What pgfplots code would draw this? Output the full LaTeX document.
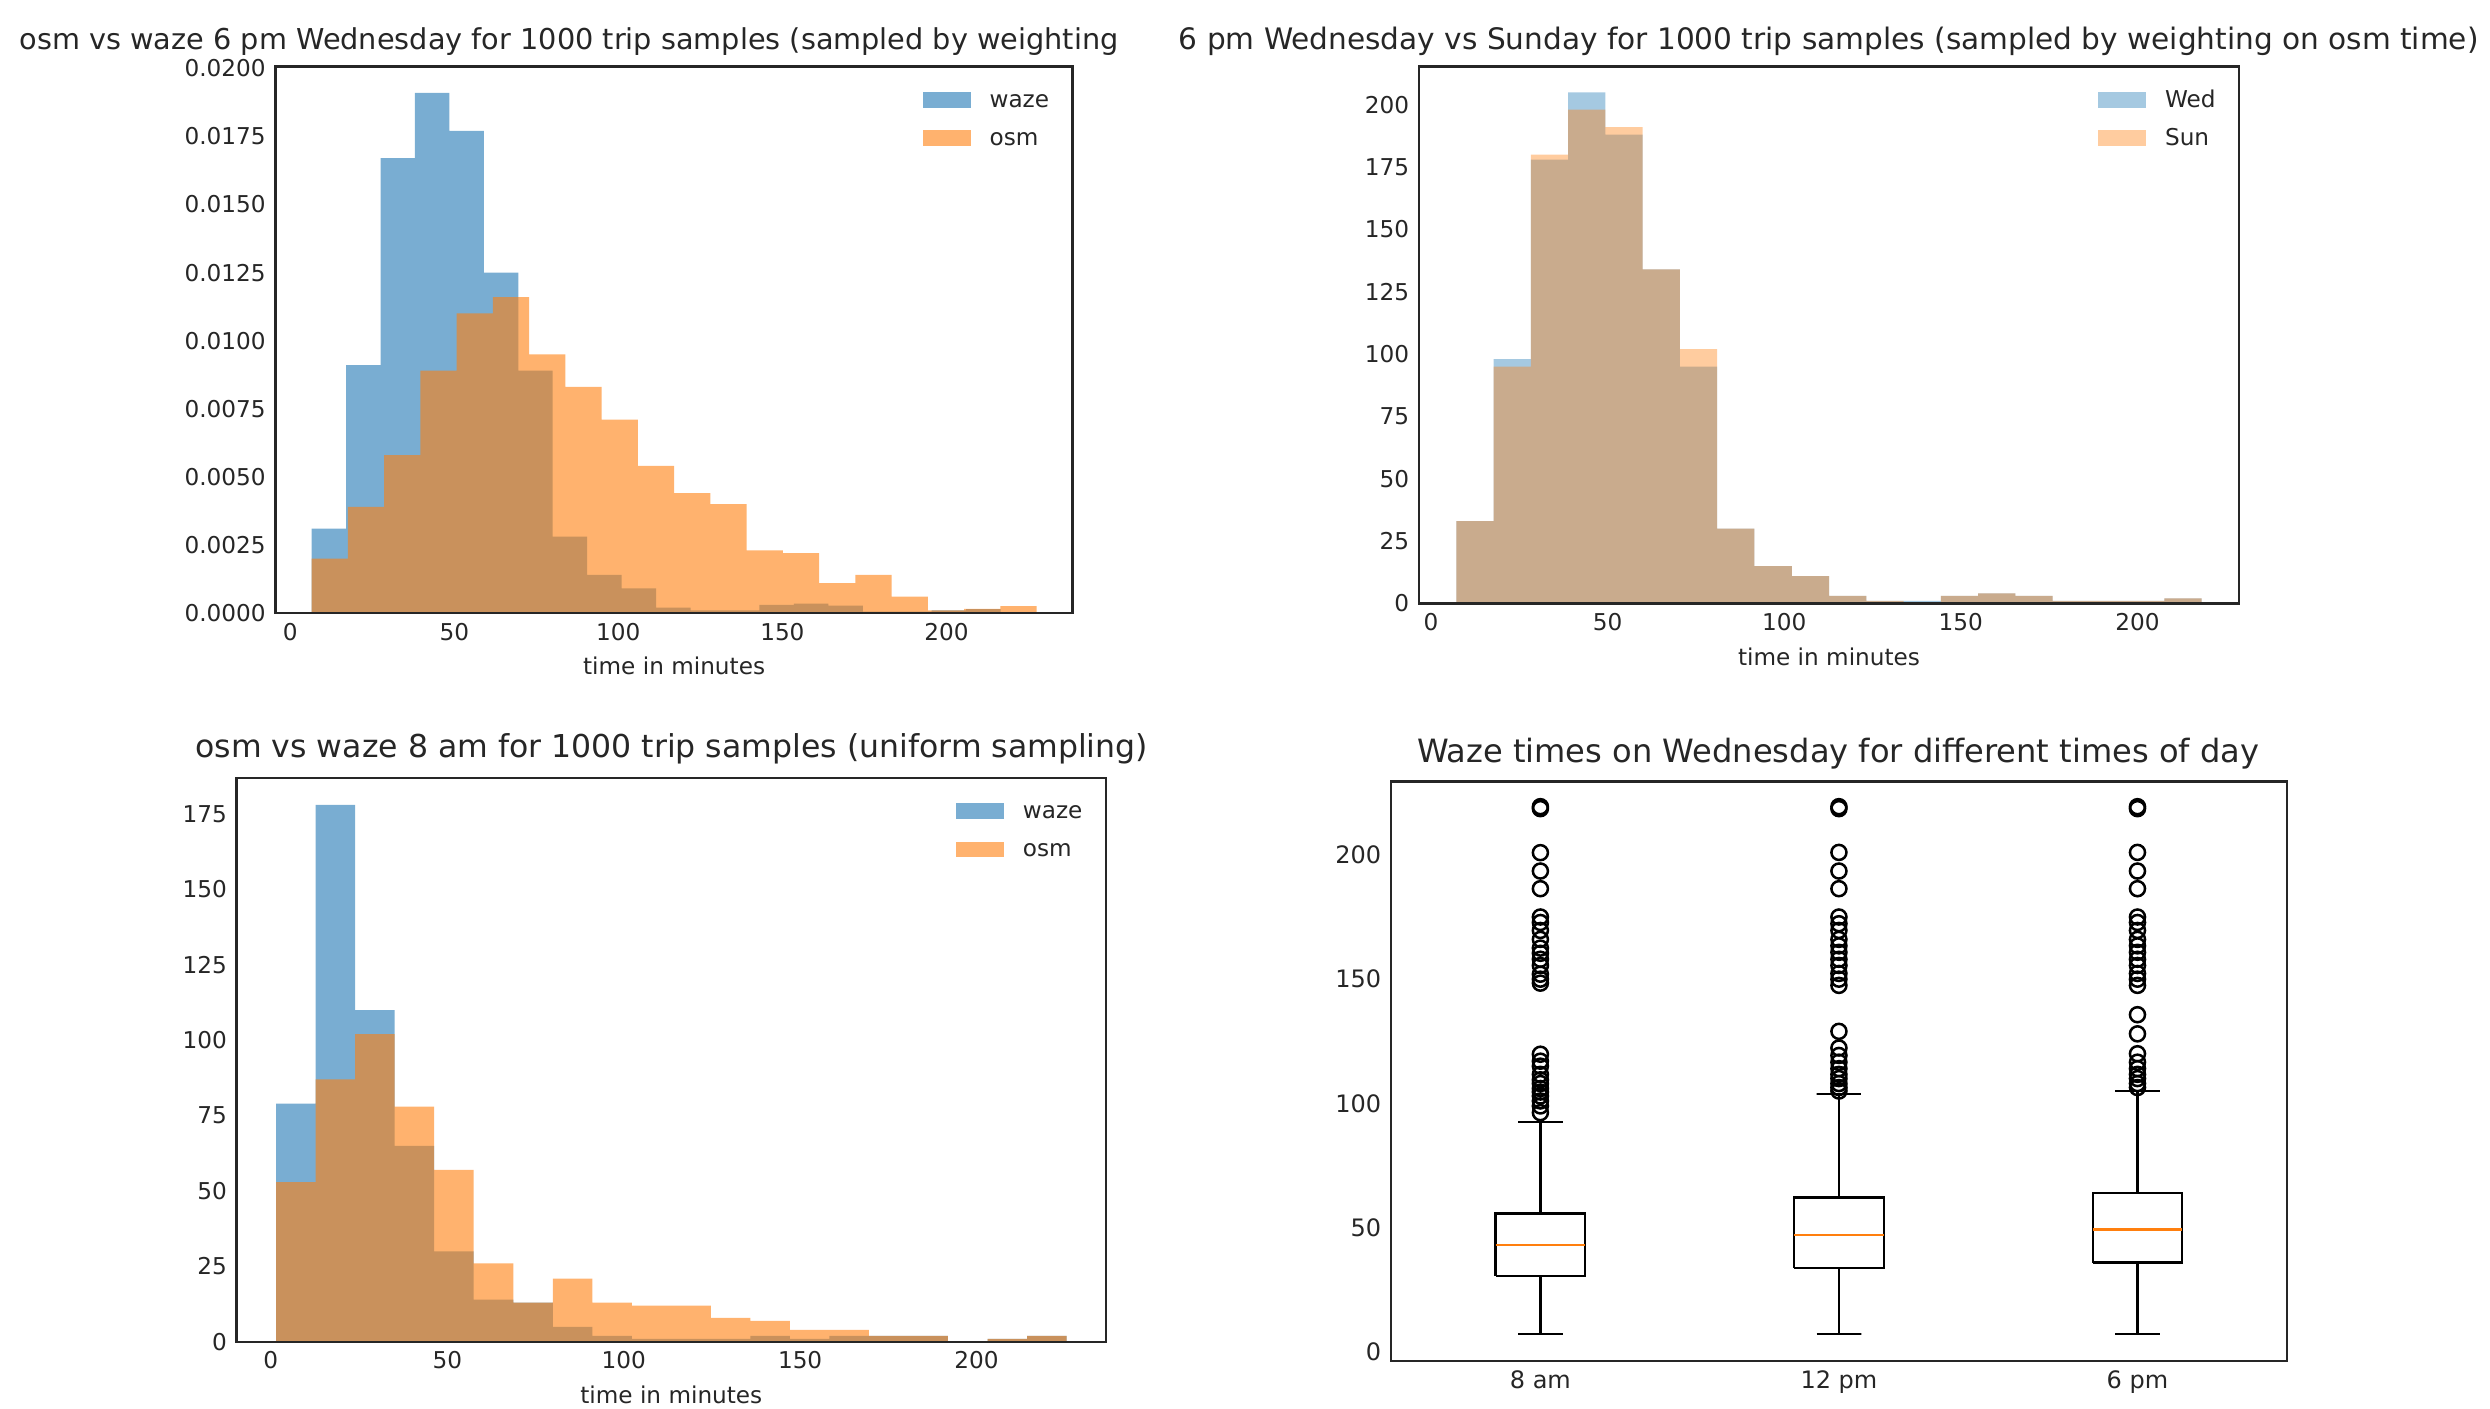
\documentclass[border=0pt]{standalone}
\usepackage{fontspec}
\setmainfont{DejaVu Sans}
\usepackage{pgfplots}
\pgfplotsset{compat=1.18}

\definecolor{mblue}{HTML}{1F77B4}
\definecolor{morange}{HTML}{FF7F0E}
\definecolor{txt}{HTML}{262626}

\newcommand{\tickfont}{\fontsize{8.3}{10}\selectfont}

\pgfplotsset{
  mplaxis/.style={
    scale only axis,
    axis on top,
    axis line style={txt, line width=0.9pt},
    major tick length=0pt,
    tick style={draw=none},
    tick label style={font=\tickfont, text=txt},
    label style={font=\tickfont, text=txt},
    xlabel style={at={(axis description cs:0.5,0)}, anchor=base, yshift=-7.8mm},
    /pgf/number format/assume math mode=true,
    legend cell align=left,
    legend style={draw=none, fill=none, at={(1,1)}, anchor=north east,
      xshift=-2.9mm, yshift=-3.0mm, font=\tickfont, text=txt,
      row sep=2.6mm, inner sep=0pt,
      nodes={inner sep=0pt, text height=5.8pt, text depth=0.5pt},
      /tikz/every odd column/.append style={column sep=2.4mm}},
  },
  histleg/.style={legend image code/.code={\fill[##1] (0mm,-1mm) rectangle (6mm,1mm);}},
  bxline/.style={draw=black, line width=0.8pt},
  flier/.style={only marks, mark=o, mark size=2.7pt, mark options={draw=black, line width=0.9pt}},
}

\begin{document}
\begin{tikzpicture}

% --- top left: density histogram, 6 pm Wednesday ---
\begin{axis}[mplaxis,
  at={(34.7mm,100.2mm)}, anchor=south west,
  width=100.4mm, height=68.8mm,
  xmin=-4.5, xmax=238.5, ymin=0, ymax=0.02006,
  xtick={0,50,100,150,200},
  ytick={0,0.0025,0.005,0.0075,0.01,0.0125,0.015,0.0175,0.02},
  scaled y ticks=false,
  yticklabel style={/pgf/number format/.cd, fixed, fixed zerofill, precision=4},
  xlabel={time in minutes},
]
\addplot[const plot, draw=none, fill=mblue, fill opacity=0.6, histleg] coordinates {
  (6.5,0.0031)(17,0.0091)(27.5,0.0167)(38,0.0191)(48.5,0.0177)(59,0.0125)(69.5,0.0089)
  (80,0.0028)(90.5,0.0014)(101,0.0009)(111.5,0.0002)(122,0.0001)(132.5,0.0001)(143,0.0003)
  (153.5,0.00034)(164,0.00027)(174.5,0.00005)(185,0.00005)(195.5,0.0001)(206,0.00014)(216.5,0.00014)} \closedcycle;
\addlegendentry{waze}
\addplot[const plot, draw=none, fill=morange, fill opacity=0.6, histleg] coordinates {
  (6.5,0.0020)(17.55,0.0039)(28.6,0.0058)(39.65,0.0089)(50.7,0.0110)(61.75,0.0116)(72.8,0.0095)
  (83.85,0.0083)(94.9,0.0071)(105.95,0.0054)(117,0.0044)(128.05,0.0040)(139.1,0.0023)(150.15,0.0022)
  (161.2,0.0011)(172.25,0.0014)(183.3,0.0006)(194.35,0.0001)(205.4,0.00015)(216.45,0.00025)(227.5,0.00025)} \closedcycle;
\addlegendentry{osm}
\end{axis}

% --- top right: Wednesday vs Sunday counts ---
\begin{axis}[mplaxis,
  at={(178.7mm,101.4mm)}, anchor=south west,
  width=103.3mm, height=67.6mm,
  xmin=-3.4, xmax=228.8, ymin=0, ymax=215.25,
  xtick={0,50,100,150,200},
  ytick={0,25,50,75,100,125,150,175,200},
  xlabel={time in minutes},
]
\addplot[const plot, draw=none, fill=mblue, fill opacity=0.4, histleg] coordinates {
  (7.2,33)(17.75,98)(28.3,178)(38.85,205)(49.4,188)(59.95,134)(70.5,95)(81.05,30)(91.6,15)
  (102.15,11)(112.7,3)(123.25,1)(133.8,1)(144.35,3)(154.9,4)(165.45,3)(176,1)(186.55,1)
  (197.1,1)(207.65,2)(218.2,2)} \closedcycle;
\addlegendentry{Wed}
\addplot[const plot, draw=none, fill=morange, fill opacity=0.4, histleg] coordinates {
  (7.2,33)(17.75,95)(28.3,180)(38.85,198)(49.4,191)(59.95,134)(70.5,102)(81.05,30)(91.6,15)
  (102.15,11)(112.7,3)(123.25,1)(133.8,0)(144.35,3)(154.9,4)(165.45,3)(176,1)(186.55,1)
  (197.1,1)(207.65,2)(218.2,2)} \closedcycle;
\addlegendentry{Sun}
\end{axis}

% --- bottom left: 8 am counts ---
\begin{axis}[mplaxis,
  at={(29.8mm,8.4mm)}, anchor=south west,
  width=109.5mm, height=71mm,
  xmin=-9.7, xmax=236.7, ymin=0, ymax=186.9,
  xtick={0,50,100,150,200},
  ytick={0,25,50,75,100,125,150,175},
  xlabel={time in minutes},
]
\addplot[const plot, draw=none, fill=mblue, fill opacity=0.6, histleg] coordinates {
  (1.5,79)(12.7,178)(23.9,110)(35.1,65)(46.3,30)(57.5,14)(68.7,13)(79.9,5)(91.1,2)(102.3,1)
  (113.5,1)(124.7,1)(135.9,2)(147.1,1)(158.3,2)(169.5,2)(180.7,2)(191.9,0)(203.1,1)(214.3,2)(225.5,2)} \closedcycle;
\addlegendentry{waze}
\addplot[const plot, draw=none, fill=morange, fill opacity=0.6, histleg] coordinates {
  (1.5,53)(12.7,87)(23.9,102)(35.1,78)(46.3,57)(57.5,26)(68.7,13)(79.9,21)(91.1,13)(102.3,12)
  (113.5,12)(124.7,8)(135.9,7)(147.1,4)(158.3,4)(169.5,2)(180.7,2)(191.9,0)(203.1,1)(214.3,2)(225.5,2)} \closedcycle;
\addlegendentry{osm}
\end{axis}

% --- bottom right: box plots (Q1, median, Q3, whiskers, fliers) ---
\begin{axis}[mplaxis,
  at={(175.2mm,6mm)}, anchor=south west,
  width=112.8mm, height=73mm,
  xmin=0.5, xmax=3.5, ymin=-3.6, ymax=229.6,
  xtick={1,2,3}, xticklabels={8 am,12 pm,6 pm},
  ytick={0,50,100,150,200},
  tick label style={font=\fontsize{8.6}{10}\selectfont},
]
% 8 am
\addplot[bxline] coordinates {(0.85,30.7)(1.15,30.7)(1.15,55.7)(0.85,55.7)(0.85,30.7)};
\addplot[bxline] coordinates {(0.925,7.1)(1.075,7.1)(1,7.1)(1,30.7)};
\addplot[bxline] coordinates {(1,55.7)(1,92.4)(0.925,92.4)(1.075,92.4)};
\addplot[morange, line width=0.8pt] coordinates {(0.85,42.9)(1.15,42.9)};
\addplot[flier] coordinates {(1,96.3)(1,99)(1,101)(1,103)(1,104.6)(1,106)(1,108)(1,109.5)(1,111.7)
  (1,115)(1,117)(1,119.8)(1,148.4)(1,150)(1,152)(1,155.5)(1,158)(1,160.4)(1,162.5)(1,166)
  (1,169.6)(1,172.8)(1,175)(1,186.4)(1,193.5)(1,200.9)(1,218.6)(1,219.4)};
% 12 pm
\addplot[bxline] coordinates {(1.85,33.9)(2.15,33.9)(2.15,62.2)(1.85,62.2)(1.85,33.9)};
\addplot[bxline] coordinates {(1.925,7.1)(2.075,7.1)(2,7.1)(2,33.9)};
\addplot[bxline] coordinates {(2,62.2)(2,103.9)(1.925,103.9)(2.075,103.9)};
\addplot[morange, line width=0.8pt] coordinates {(1.85,47.2)(2.15,47.2)};
\addplot[flier] coordinates {(2,105)(2,106.4)(2,108)(2,110)(2,111.7)(2,114)(2,116.6)(2,119.3)
  (2,122.3)(2,129)(2,147.5)(2,150)(2,152.3)(2,155.5)(2,158)(2,160.8)(2,163.4)(2,166)(2,169.6)
  (2,172.3)(2,175)(2,186.4)(2,193.5)(2,201)(2,218.6)(2,219.4)};
% 6 pm
\addplot[bxline] coordinates {(2.85,36)(3.15,36)(3.15,64.1)(2.85,64.1)(2.85,36)};
\addplot[bxline] coordinates {(2.925,7.1)(3.075,7.1)(3,7.1)(3,36)};
\addplot[bxline] coordinates {(3,64.1)(3,105.1)(2.925,105.1)(3.075,105.1)};
\addplot[morange, line width=0.8pt] coordinates {(2.85,49.3)(3.15,49.3)};
\addplot[flier] coordinates {(3,106.4)(3,108)(3,110)(3,111.7)(3,114)(3,116.6)(3,120)(3,128)
  (3,135.7)(3,147.5)(3,150)(3,152.3)(3,155.5)(3,158)(3,160.8)(3,163.4)(3,166)(3,169.6)
  (3,172.8)(3,175)(3,186.4)(3,193.5)(3,201)(3,218.6)(3,219.4)};
\end{axis}

% titles
\node[anchor=base west, inner sep=0pt, text=txt, font=\fontsize{10.3}{12}\selectfont] at (2.4mm,171.2mm)
  {osm vs waze 6 pm Wednesday for 1000 trip samples (sampled by weighting};
\node[anchor=base west, inner sep=0pt, text=txt, font=\fontsize{10.6}{12}\selectfont] at (148.4mm,171.2mm)
  {6 pm Wednesday vs Sunday for 1000 trip samples (sampled by weighting on osm time)};
\node[anchor=base, inner sep=0pt, text=txt, font=\fontsize{11.3}{13}\selectfont] at (84.6mm,82mm)
  {osm vs waze 8 am for 1000 trip samples (uniform sampling)};
\node[anchor=base, inner sep=0pt, text=txt, font=\fontsize{11.5}{13}\selectfont] at (231.5mm,81.4mm)
  {Waze times on Wednesday for different times of day};

\pgfresetboundingbox
\path[use as bounding box] (0,0) rectangle (313.6mm,177.4mm);
\end{tikzpicture}
\end{document}
